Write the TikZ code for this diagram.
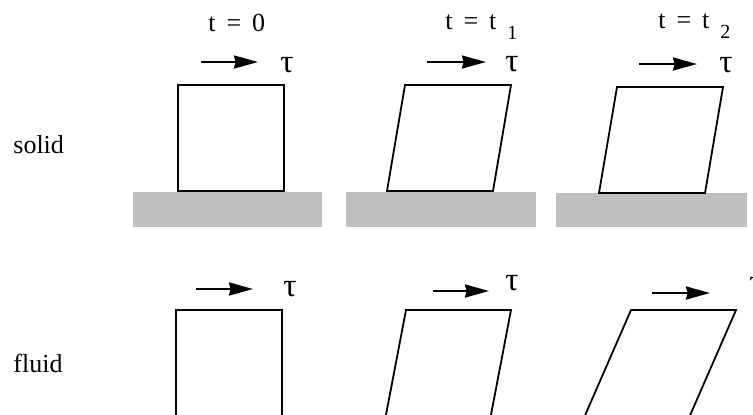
\documentclass[tikz,border=0pt]{standalone}
\usepackage{fontspec}
\setmainfont{Liberation Serif}
\usetikzlibrary{arrows.meta}

\tikzset{
  lbl/.style={font=\fontsize{13}{15}\selectfont, inner sep=0pt},
  taulbl/.style={font=\fontsize{16.5}{18}\selectfont, inner sep=0pt},
  shearbox/.style={line width=0.9pt, line join=miter},
  ground/.style={fill=black!25, draw=none},
  shear/.style={->, line width=1.1pt},
}
\newcommand{\tsub}[1]{\hspace{5.5pt}\raisebox{-5pt}{\fontsize{10}{10}\selectfont #1}}
\newcommand{\teq}{t\hspace{0.42em}=\hspace{0.42em}}

\begin{document}
\begin{tikzpicture}[x=0.5pt, y=-0.5pt, >={Stealth[length=12pt, width=6.5pt, inset=0.8pt]}]
\useasboundingbox (0,0) rectangle (753,414);

% Zeilen
\node[lbl, anchor=base west] (solid) at (13,153) {solid};
\node[lbl, anchor=base west] (fluid) at (13,372) {fluid};

% Zeitpunkte
\node[lbl, anchor=base west] (t0) at (208,31) {\teq 0};
\node[lbl, anchor=base west] (t1) at (445,29) {\teq t\tsub{1}};
\node[lbl, anchor=base west] (t2) at (658,28) {\teq t\tsub{2}};

% Boden
\fill[ground] (133,192) rectangle (322,227);
\fill[ground] (346,192) rectangle (536,227);
\fill[ground] (556,193) rectangle (747,227);

% Festkoerper
\draw[shearbox] (178,85) rectangle (284,191);
\draw[shearbox] (405,85) -- (511,85) -- (493,191) -- (387,191) -- cycle;
\draw[shearbox] (617,87) -- (723,87) -- (705,193) -- (599,193) -- cycle;

% Fluid
\draw[shearbox] (176,420) -- (176,310) -- (282,310) -- (282,420);
\draw[shearbox] (385,420) -- (406,310) -- (511,310) -- (490,420);
\draw[shearbox] (583,420) -- (631,310) -- (736,310) -- (688,420);

% Schubspannung
\node[taulbl] (tauS0) at (287,65) {τ};
\node[taulbl] (tauS1) at (512,64) {τ};
\node[taulbl] (tauS2) at (726,65) {τ};
\node[taulbl] (tauF0) at (290,289) {τ};
\node[taulbl] (tauF1) at (512,283) {τ};
\node[taulbl] (tauF2) at (756,285) {τ};

\coordinate (aS0) at (201,62);  \coordinate (bS0) at (258,62);
\coordinate (aS1) at (427,62);  \coordinate (bS1) at (486,62);
\coordinate (aS2) at (639,64);  \coordinate (bS2) at (697,64);
\coordinate (aF0) at (196,289); \coordinate (bF0) at (253,289);
\coordinate (aF1) at (433,291); \coordinate (bF1) at (489,291);
\coordinate (aF2) at (652,293); \coordinate (bF2) at (710,293);

\draw[shear] (aS0) -- (bS0);
\draw[shear] (aS1) -- (bS1);
\draw[shear] (aS2) -- (bS2);
\draw[shear] (aF0) -- (bF0);
\draw[shear] (aF1) -- (bF1);
\draw[shear] (aF2) -- (bF2);

\end{tikzpicture}
\end{document}
